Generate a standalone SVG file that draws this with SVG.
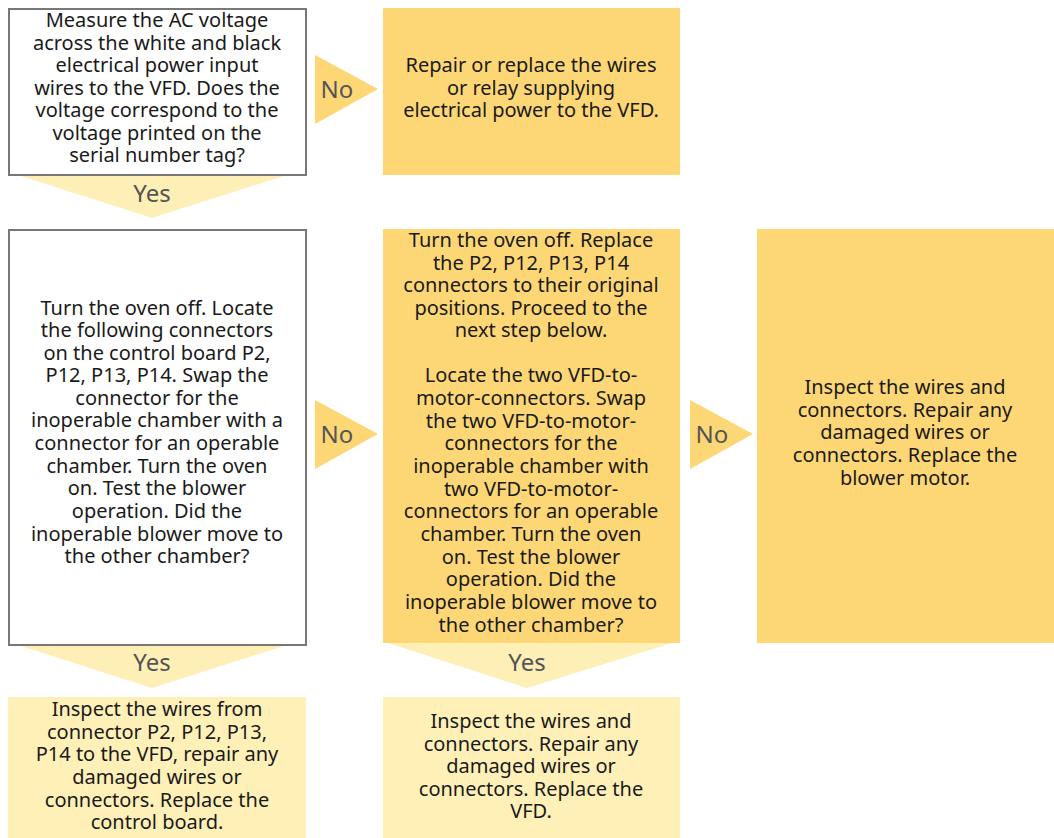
<svg xmlns="http://www.w3.org/2000/svg" width="1054" height="838" viewBox="0 0 1054 838">
<style>
.t{font-family:"Noto Sans","Open Sans","DejaVu Sans",sans-serif;font-size:20px;fill:#1a1a1a;text-anchor:middle}
.l{font-family:"Noto Sans","Open Sans","DejaVu Sans",sans-serif;font-size:24px;fill:#555;text-anchor:middle}
.w{fill:#fff;stroke:#777;stroke-width:2}
.o{fill:#fdd775}
.y{fill:#fff0b8}
.ty{fill:#fdefb5}
.tn{fill:#fdd775}
</style>
<rect width="1054" height="838" fill="#fff"/>
<g id="connectors">
<g id="yes1"><polygon class="ty" points="18,175 287,175 152,218"/><text class="l" x="152" y="202">Yes</text></g>
<g id="no1"><polygon class="tn" points="315,55 378,89 315,124"/><text class="l" x="337" y="98">No</text></g>
<g id="no2"><polygon class="tn" points="315,400 378,434 315,469"/><text class="l" x="337" y="443">No</text></g>
<g id="no3"><polygon class="tn" points="690,400 753,434 690,469"/><text class="l" x="712" y="443">No</text></g>
<g id="yes2"><polygon class="ty" points="18,645 287,645 152,688"/><text class="l" x="152" y="671">Yes</text></g>
<g id="yes3"><polygon class="ty" points="388,643 672,643 527,688"/><text class="l" x="527" y="671">Yes</text></g>
</g>
<g id="n1"><rect class="w" x="9" y="9" width="297" height="166"/>
<text class="t"><tspan x="157" y="27">Measure the AC voltage</tspan><tspan x="157" y="50">across the white and black</tspan><tspan x="157" y="72">electrical power input</tspan><tspan x="157" y="95">wires to the VFD. Does the</tspan><tspan x="157" y="117">voltage correspond to the</tspan><tspan x="157" y="140">voltage printed on the</tspan><tspan x="157" y="162">serial number tag?</tspan></text></g>
<g id="n2"><rect class="o" x="383" y="8" width="297" height="167"/>
<text class="t"><tspan x="531" y="72">Repair or replace the wires</tspan><tspan x="531" y="95">or relay supplying</tspan><tspan x="531" y="117">electrical power to the VFD.</tspan></text></g>
<g id="n3"><rect class="w" x="9" y="230" width="297" height="415"/>
<text class="t"><tspan x="157" y="315">Turn the oven off. Locate</tspan><tspan x="157" y="337">the following connectors</tspan><tspan x="157" y="360">on the control board P2,</tspan><tspan x="157" y="382">P12, P13, P14. Swap the</tspan><tspan x="157" y="405">connector for the</tspan><tspan x="157" y="427">inoperable chamber with a</tspan><tspan x="157" y="450">connector for an operable</tspan><tspan x="157" y="473">chamber. Turn the oven</tspan><tspan x="157" y="495">on. Test the blower</tspan><tspan x="157" y="518">operation. Did the</tspan><tspan x="157" y="541">inoperable blower move to</tspan><tspan x="157" y="563">the other chamber?</tspan></text></g>
<g id="n4"><rect class="o" x="383" y="229" width="297" height="414"/>
<text class="t"><tspan x="531" y="247">Turn the oven off. Replace</tspan><tspan x="531" y="270">the P2, P12, P13, P14</tspan><tspan x="531" y="292">connectors to their original</tspan><tspan x="531" y="315">positions. Proceed to the</tspan><tspan x="531" y="337">next step below.</tspan><tspan x="531" y="382">Locate the two VFD-to-</tspan><tspan x="531" y="405">motor-connectors. Swap</tspan><tspan x="531" y="428">the two VFD-to-motor-</tspan><tspan x="531" y="450">connectors for the</tspan><tspan x="531" y="473">inoperable chamber with</tspan><tspan x="531" y="496">two VFD-to-motor-</tspan><tspan x="531" y="518">connectors for an operable</tspan><tspan x="531" y="541">chamber. Turn the oven</tspan><tspan x="531" y="564">on. Test the blower</tspan><tspan x="531" y="586">operation. Did the</tspan><tspan x="531" y="609">inoperable blower move to</tspan><tspan x="531" y="632">the other chamber?</tspan></text></g>
<g id="n5"><rect class="o" x="757" y="229" width="297" height="414"/>
<text class="t"><tspan x="905" y="394">Inspect the wires and</tspan><tspan x="905" y="417">connectors. Repair any</tspan><tspan x="905" y="439">damaged wires or</tspan><tspan x="905" y="462">connectors. Replace the</tspan><tspan x="905" y="485">blower motor.</tspan></text></g>
<g id="n6"><rect class="y" x="8" y="697" width="298" height="141"/>
<text class="t"><tspan x="157" y="716">Inspect the wires from</tspan><tspan x="157" y="739">connector P2, P12, P13,</tspan><tspan x="157" y="761">P14 to the VFD, repair any</tspan><tspan x="157" y="784">damaged wires or</tspan><tspan x="157" y="807">connectors. Replace the</tspan><tspan x="157" y="829">control board.</tspan></text></g>
<g id="n7"><rect class="y" x="383" y="697" width="297" height="141"/>
<text class="t"><tspan x="531" y="728">Inspect the wires and</tspan><tspan x="531" y="751">connectors. Repair any</tspan><tspan x="531" y="773">damaged wires or</tspan><tspan x="531" y="796">connectors. Replace the</tspan><tspan x="531" y="818">VFD.</tspan></text></g>
</svg>
